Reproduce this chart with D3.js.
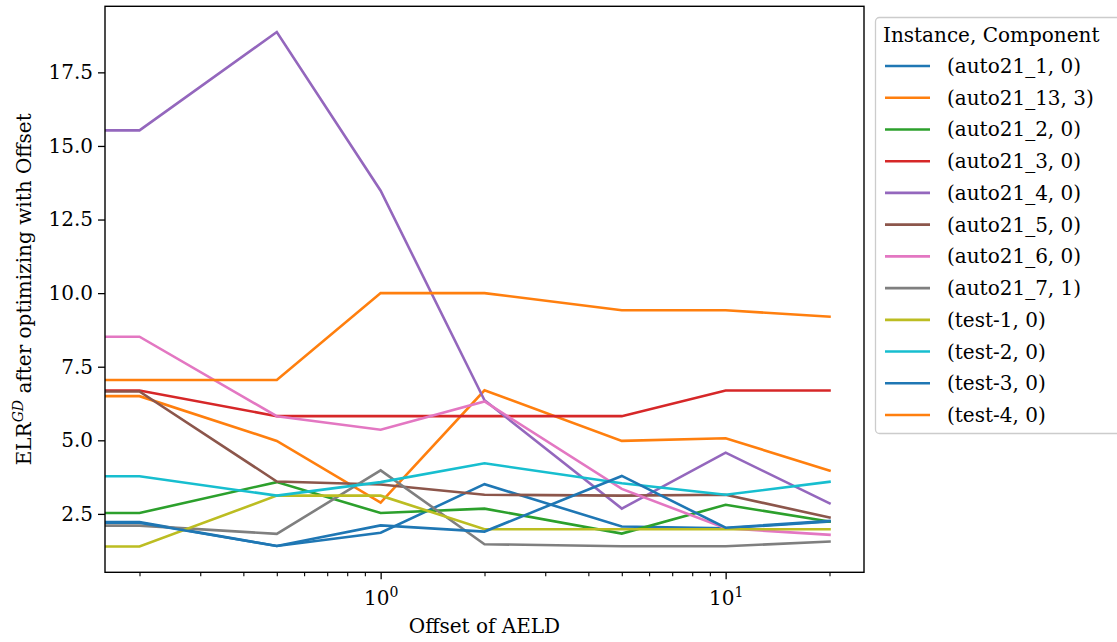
<!DOCTYPE html>
<html>
<head>
<meta charset="utf-8">
<script src="https://cdn.jsdelivr.net/npm/d3@7"></script>
<style>
  html, body { margin: 0; padding: 0; background: #fff; }
  svg { display: block; }
  text { font-family: "DejaVu Serif", serif; fill: #000; }
</style>
</head>
<body>
<svg id="chart" width="1117" height="642"></svg>
<script>
// ---- data ----
const offsets = [0, 0.2, 0.5, 1, 2, 5, 10, 20];
const seriesNames = [
  "(auto21_1, 0)", "(auto21_13, 3)", "(auto21_2, 0)", "(auto21_3, 0)",
  "(auto21_4, 0)", "(auto21_5, 0)", "(auto21_6, 0)", "(auto21_7, 1)",
  "(test-1, 0)", "(test-2, 0)", "(test-3, 0)", "(test-4, 0)"
];
const auto21_1  = [2.22, 2.22, 1.41, 1.86, 3.51, 2.07, 2.01, 2.24];
const auto21_13 = [6.50, 6.50, 4.98, 2.88, 6.70, 4.98, 5.07, 3.97];
const auto21_2  = [2.53, 2.53, 3.58, 2.53, 2.68, 1.83, 2.81, 2.24];
const auto21_3  = [6.69, 6.69, 5.82, 5.82, 5.82, 5.82, 6.69, 6.69];
const auto21_4  = [15.53, 15.53, 18.87, 13.48, 6.36, 2.68, 4.58, 2.86];
const auto21_5  = [6.66, 6.66, 3.60, 3.50, 3.15, 3.12, 3.15, 2.38];
const auto21_6  = [8.52, 8.52, 5.82, 5.36, 6.32, 3.35, 2.01, 1.79];
const auto21_7  = [2.10, 2.10, 1.82, 3.98, 1.47, 1.40, 1.40, 1.56];
const test_1    = [1.39, 1.39, 3.12, 3.12, 1.98, 1.98, 1.98, 1.98];
const test_2    = [3.78, 3.78, 3.12, 3.58, 4.22, 3.54, 3.15, 3.59];
const test_3    = [2.20, 2.20, 1.41, 2.11, 1.90, 3.79, 2.03, 2.26];
const test_4    = [7.05, 7.05, 7.05, 10.00, 10.00, 9.42, 9.42, 9.20];
const seriesValues = [auto21_1, auto21_13, auto21_2, auto21_3, auto21_4, auto21_5,
                      auto21_6, auto21_7, test_1, test_2, test_3, test_4];
const colors = ["#1f77b4", "#ff7f0e", "#2ca02c", "#d62728", "#9467bd", "#8c564b",
                "#e377c2", "#7f7f7f", "#bcbd22", "#17becf", "#1f77b4", "#ff7f0e"];
const yTicks = [2.5, 5.0, 7.5, 10.0, 12.5, 15.0, 17.5];
const xMajorTicks = [1, 10];
const xMinorTicks = [0.2, 0.3, 0.4, 0.5, 0.6, 0.7, 0.8, 0.9, 2, 3, 4, 5, 6, 7, 8, 9, 20];
const legendTitle = "Instance, Component";

// ---- layout ----
const svg = d3.select("#chart");
const L = 105, R = 864, T = 6.3, B = 572.3;

const posOffsets = offsets.filter(o => o > 0);
const lmin = Math.log10(d3.min(posOffsets)), lmax = Math.log10(d3.max(posOffsets));
const lm = (lmax - lmin) * 0.05;
const x = d3.scaleLog().domain([Math.pow(10, lmin - lm), Math.pow(10, lmax + lm)]).range([L, R]);

const allV = seriesValues.flat();
const vmin = d3.min(allV), vmax = d3.max(allV), vm = (vmax - vmin) * 0.05;
const y = d3.scaleLinear().domain([vmin - vm, vmax + vm]).range([B, T]);

const xPos = o => (o > 0 ? x(o) : x.range()[0]);

svg.append("defs").append("clipPath").attr("id", "plotclip")
  .append("rect").attr("x", L).attr("y", T).attr("width", R - L).attr("height", B - T);

// lines
const line = d3.line().x((d, i) => xPos(offsets[i])).y(d => y(d));
const g = svg.append("g").attr("clip-path", "url(#plotclip)");
seriesValues.forEach((vals, k) => {
  g.append("path").datum(vals)
    .attr("d", line)
    .attr("fill", "none")
    .attr("stroke", colors[k])
    .attr("stroke-width", 2.6)
    .attr("stroke-linejoin", "miter")
    .attr("stroke-linecap", "square");
});

// axes
const fmt = d3.format(".1f");
const yAxis = d3.axisLeft(y).tickValues(yTicks).tickSize(7).tickPadding(5).tickFormat(fmt);
const yG = svg.append("g").attr("transform", `translate(${L},0)`).call(yAxis);
yG.select(".domain").remove();
yG.selectAll("line").attr("stroke", "#000").attr("stroke-width", 1.3);
yG.selectAll("text").style("font-size", "20px").attr("font-family", "DejaVu Serif");

const xMinor = d3.axisBottom(x).tickValues(xMinorTicks).tickSize(4).tickFormat("");
const xmG = svg.append("g").attr("transform", `translate(0,${B})`).call(xMinor);
xmG.select(".domain").remove();
xmG.selectAll("line").attr("stroke", "#000").attr("stroke-width", 1.1);

const xMajor = d3.axisBottom(x).tickValues(xMajorTicks).tickSize(7).tickFormat("");
const xMG = svg.append("g").attr("transform", `translate(0,${B})`).call(xMajor);
xMG.select(".domain").remove();
xMG.selectAll("line").attr("stroke", "#000").attr("stroke-width", 1.3);
xMG.selectAll(".tick").append("text")
  .attr("y", 33).attr("text-anchor", "middle").attr("fill", "#000")
  .style("font-size", "20px")
  .each(function(d) {
    const t = d3.select(this);
    t.append("tspan").text("10");
    t.append("tspan").attr("dy", -8).style("font-size", "14px").text(String(Math.round(Math.log10(d))));
  });

// frame
svg.append("rect").attr("x", L).attr("y", T).attr("width", R - L).attr("height", B - T)
  .attr("fill", "none").attr("stroke", "#000").attr("stroke-width", 1.4);

// axis titles
svg.append("text").attr("x", (L + R) / 2).attr("y", 633).attr("text-anchor", "middle")
  .style("font-size", "20px").text("Offset of AELD");

const yl = svg.append("text").attr("transform", `translate(31,${(T + B) / 2}) rotate(-90)`)
  .attr("text-anchor", "middle").style("font-size", "20px");
yl.append("tspan").text("ELR");
yl.append("tspan").attr("dy", -8).style("font-size", "14px").style("font-style", "italic").text("GD");
yl.append("tspan").attr("dy", 8).text(" after optimizing with Offset");

// legend
const lg = svg.append("g");
lg.append("rect").attr("x", 875.5).attr("y", 17.5).attr("width", 260).attr("height", 416)
  .attr("rx", 4).attr("fill", "#fff").attr("fill-opacity", 0.8)
  .attr("stroke", "#cccccc").attr("stroke-width", 1.3);
lg.append("text").attr("x", 883).attr("y", 42).style("font-size", "20px").text(legendTitle);
seriesNames.forEach((name, k) => {
  const cy = 66 + k * 31.73;
  lg.append("line").attr("x1", 885).attr("x2", 930).attr("y1", cy).attr("y2", cy)
    .attr("stroke", colors[k]).attr("stroke-width", 2.6);
  lg.append("text").attr("x", 947).attr("y", cy + 7).style("font-size", "20px").text(name);
});
</script>
</body>
</html>
